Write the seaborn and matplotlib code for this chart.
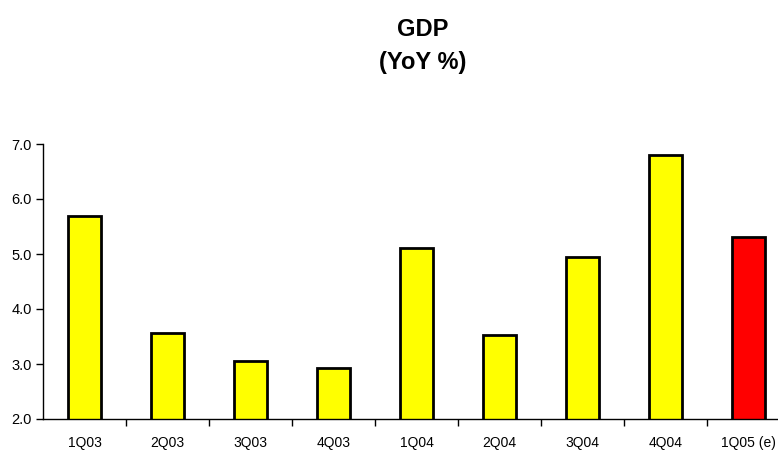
import matplotlib
matplotlib.use("Agg")
import matplotlib.pyplot as plt
import seaborn as sns
import pandas as pd

quarters = ["1Q03", "2Q03", "3Q03", "4Q03", "1Q04", "2Q04", "3Q04", "4Q04", "1Q05 (e)"]
gdp_yoy = [5.69, 3.57, 3.05, 2.93, 5.11, 3.53, 4.95, 6.80, 5.31]
bar_colors = ["#FFFF00"] * 8 + ["#FF0000"]
y_ticks = [2.0, 3.0, 4.0, 5.0, 6.0, 7.0]

sns.set_theme(style="white")
plt.rcParams["font.family"] = ["Liberation Sans", "DejaVu Sans"]
plt.rcParams["text.color"] = "black"
plt.rcParams["xtick.color"] = "black"
plt.rcParams["ytick.color"] = "black"

df = pd.DataFrame({"quarter": quarters, "gdp": gdp_yoy})

fig = plt.figure(figsize=(7.78, 4.5), dpi=100)
ax = fig.add_axes([43 / 778, (450 - 419) / 450, 747 / 778, 275 / 450])

sns.barplot(data=df, x="quarter", y="gdp", hue="quarter", palette=bar_colors,
            legend=False, width=0.4, edgecolor="black", linewidth=2,
            saturation=1, ax=ax)

ax.set_ylim(2.0, 7.0)
ax.set_xlim(-0.5, 8.5)
ax.set_yticks(y_ticks)
ax.set_yticklabels([f"{v:.1f}" for v in y_ticks], fontsize=10.5, color="black")
ax.set_xticks(range(len(quarters)))
ax.set_xticklabels(quarters, fontsize=10, color="black")
ax.tick_params(axis="x", length=0, pad=12)
ax.tick_params(axis="y", length=5, width=1, color="black", left=True, pad=3)
ax.set_xticks([i + 0.5 for i in range(len(quarters) - 1)], minor=True)
ax.tick_params(axis="x", which="minor", length=5, width=1, color="black", bottom=True, direction="out")
ax.set_xlabel("")
ax.set_ylabel("")
for s in ["top", "right"]:
    ax.spines[s].set_visible(False)
for s in ["left", "bottom"]:
    ax.spines[s].set_color("black")
    ax.spines[s].set_linewidth(1)
ax.grid(False)

fig.text(0.543, 1 - 30 / 450, "GDP", ha="center", va="center", fontsize=17,
         fontweight="bold", color="black")
fig.text(0.543, 1 - 62 / 450, "(YoY %)", ha="center", va="center", fontsize=17,
         fontweight="bold", color="black")

fig.savefig("out.png", dpi=100)
